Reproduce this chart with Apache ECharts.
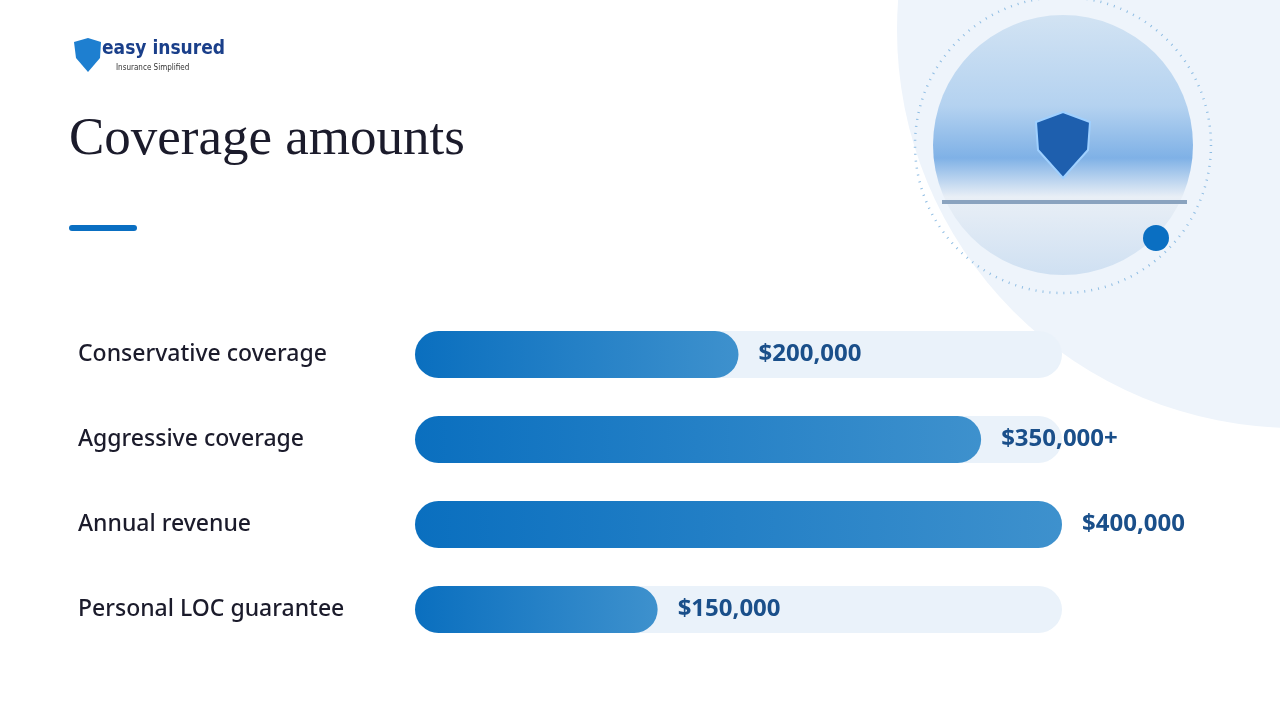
<!DOCTYPE html>
<html><head><meta charset="utf-8">
<script src="https://cdn.jsdelivr.net/npm/echarts@6/dist/echarts.min.js"></script>
<style>html,body{margin:0;padding:0;background:#fff}#c{width:1280px;height:720px}</style>
</head><body><div id="c"></div>
<script>
const categories = ['Conservative coverage','Aggressive coverage','Annual revenue','Personal LOC guarantee'];
const values = [200000, 350000, 400000, 150000];
const valueLabels = ['$200,000','$350,000+','$400,000','$150,000'];
const trackMax = 400000;

const chart = echarts.init(document.getElementById('c'));
const grad = new echarts.graphic.LinearGradient(0,0,1,0,[{offset:0,color:'#0a6fbf'},{offset:1,color:'#3e91cd'}]);
chart.setOption({
  animation:false,
  grid:{left:415,right:218,top:312,height:340},
  xAxis:{type:'value',min:0,max:trackMax,show:false},
  yAxis:{type:'category',inverse:true,data:categories,axisLine:{show:false},axisTick:{show:false},
    axisLabel:{align:'left',margin:337,fontFamily:'Noto Sans',fontSize:23,fontWeight:500,color:'#1b1b2b',padding:[4,0,0,0]}},
  graphic:[
    {type:'circle',shape:{cx:1295,cy:30,r:398},style:{fill:'#eef4fb'},z:-10},
    {type:'circle',shape:{cx:1063,cy:145,r:148},style:{fill:'none',stroke:'#8fbde3',lineWidth:2.5,lineDash:[1,6]},z:-9},
    {type:'circle',shape:{cx:1063,cy:145,r:130},style:{fill:new echarts.graphic.LinearGradient(0,0,0,1,[{offset:0,color:'#d2e3f3'},{offset:0.35,color:'#b4d2f0'},{offset:0.55,color:'#7fb1e6'},{offset:0.7,color:'#e9eff6'},{offset:1,color:'#cfe0f2'}])},z:-8},
    {type:'polygon',shape:{points:[[1063,112],[1090,122],[1088,150],[1063,178],[1038,150],[1036,122]]},style:{fill:'#1e5fae',stroke:'#9fd0ff',lineWidth:2},z:-6},
    {type:'rect',shape:{x:942,y:200,width:245,height:4},style:{fill:'#8aa3bf'},z:-6},
    {type:'circle',shape:{cx:1156,cy:238,r:13},style:{fill:'#0a6fc2'},z:-5},
    {type:'text',left:69,top:114,style:{text:'Coverage amounts',font:'53px "Liberation Serif"',fill:'#1b1b2b'}},
    {type:'rect',shape:{x:69,y:225,width:68,height:6,r:3},style:{fill:'#0a6fc2'}},
    {type:'polygon',shape:{points:[[74,42],[88,38],[101,42],[100,58],[88,72],[76,58]]},style:{fill:'#1e7fd0'}},
    {type:'text',left:102,top:40,style:{text:'easy insured',font:'bold 19px "DejaVu Sans Condensed"',fill:'#1a3f8a'}},
    {type:'text',left:116,top:64,style:{text:'Insurance Simplified',font:'8px "DejaVu Sans Condensed"',fill:'#333'}}
  ],
  series:[
    {type:'bar',data:categories.map(()=>trackMax),barWidth:47,itemStyle:{color:'#eaf2fa',borderRadius:24},silent:true,z:1},
    {type:'bar',data:values,barWidth:47,barGap:'-100%',itemStyle:{color:grad,borderRadius:24},z:2,
      label:{show:true,position:'right',distance:20,formatter:p=>valueLabels[p.dataIndex],fontFamily:'Noto Sans',fontSize:24,fontWeight:'bold',color:'#1a4f8a',padding:[3,0,0,0]}}
  ]
});
</script></body></html>
